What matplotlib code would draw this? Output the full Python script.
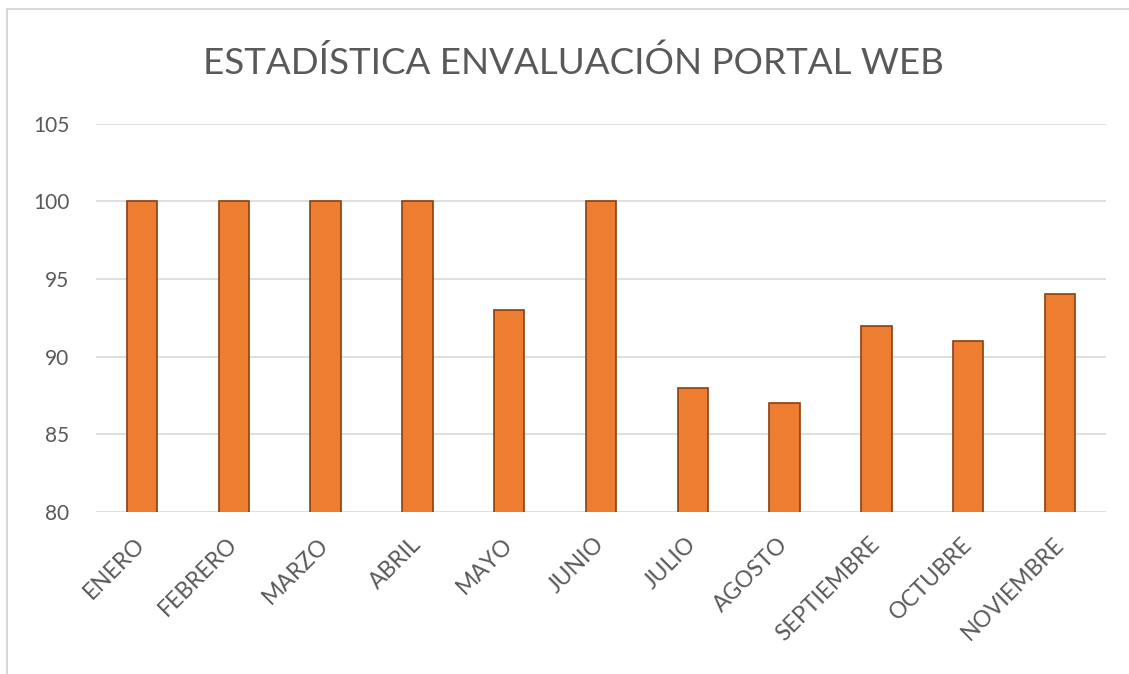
import matplotlib
matplotlib.use("Agg")
import matplotlib.pyplot as plt
from matplotlib.patches import Rectangle

months = ["ENERO", "FEBRERO", "MARZO", "ABRIL", "MAYO", "JUNIO", "JULIO",
          "AGOSTO", "SEPTIEMBRE", "OCTUBRE", "NOVIEMBRE"]
values = [100, 100, 100, 100, 93, 100, 88, 87, 92, 91, 94]
yticks = [80, 85, 90, 95, 100, 105]
title = "ESTADÍSTICA ENVALUACIÓN PORTAL WEB"

plt.rcParams['font.family'] = ['Lato', 'DejaVu Sans']
W, H = 1129, 674
fig = plt.figure(figsize=(W / 100, H / 100), dpi=100)
ax = fig.add_axes([96 / W, 1 - 512 / H, (1106 - 96) / W, (512 - 123.5) / H])

x = list(range(len(months)))
ax.bar(x, values, width=0.33, color="#ED7D31", edgecolor="#8B4010",
       linewidth=1.2, zorder=3)
ax.set_xlim(-0.5, len(months) - 0.5)
ax.set_ylim(80, 105)
ax.set_yticks(yticks)
ax.set_yticklabels([str(v) for v in yticks], fontsize=15, color="#595959")
ax.set_xticks(x)
ax.set_xticklabels(months, rotation=45, ha="right", va="center",
                   rotation_mode="anchor", fontsize=16.5, color="#595959")
ax.tick_params(axis="y", length=0, pad=19)
ax.tick_params(axis="x", length=0, pad=21)
ax.grid(axis="y", color="#D9D9D9", linewidth=1.2, zorder=0)
for s in ax.spines.values():
    s.set_visible(False)

fig.text(573 / W, 1 - 63 / H, title, ha="center", va="center",
         fontsize=26.5, color="#595959")

fig.patches.append(Rectangle((7 / W, -0.1), 1.2, 1 - 9 / H + 0.1,
                             transform=fig.transFigure, fill=False,
                             edgecolor="#D9D9D9", linewidth=1.5))

fig.savefig("out.png", dpi=100)
